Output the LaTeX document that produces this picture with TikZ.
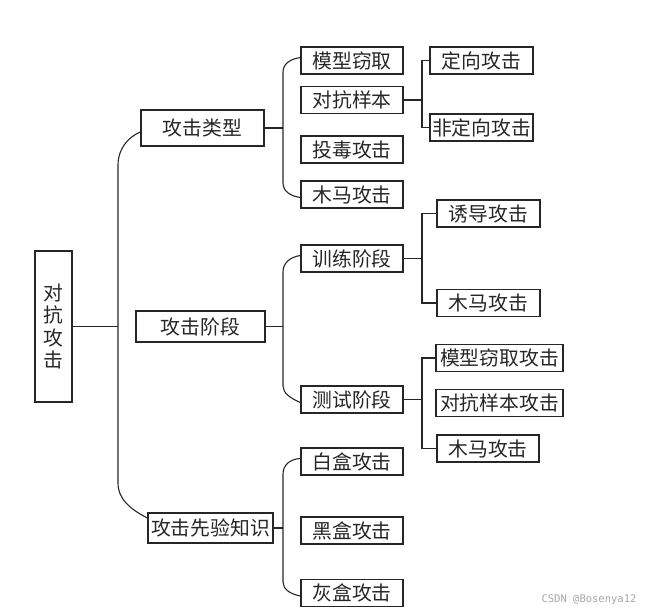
\documentclass[tikz,border=0pt]{standalone}
\usepackage{fontspec}
\newfontfamily\cjk{Noto Sans CJK SC}
\newfontfamily\wm{DejaVu Sans Mono}
\begin{document}
\begin{tikzpicture}[x=1pt,y=-1pt,
  box/.style={draw=black!85,line width=1.3pt,rectangle,inner sep=0pt,
    font=\cjk\fontsize{19.8}{22}\selectfont,text=black!85,minimum height=27pt},
  lv2/.style={box,minimum width=102pt},
  lv3/.style={box,minimum width=103pt},
  lv3w/.style={box,minimum width=127pt},
  conn/.style={draw=black!85,line width=1.1pt}]
\useasboundingbox (0,0) rectangle (653,614);
% root
\node[box,minimum width=37pt,minimum height=151pt,align=center,
  font=\cjk\fontsize{19.8}{22.5}\selectfont] (root) at (53.5,326.5) {对\\抗\\攻\\击};
% level 1
\node[box,minimum width=123pt,minimum height=36pt] (lx) at (202.5,128) {攻击类型};
\node[box,minimum width=129pt,minimum height=31pt] (ls) at (200.5,326.5) {攻击阶段};
\node[box,minimum width=125pt,minimum height=30pt] (lp) at (210.5,528) {攻击先验知识};
% level 2
\node[lv2] (x1) at (352,60.5) {模型窃取};
\node[lv2] (x2) at (352,100) {对抗样本};
\node[lv2] (x3) at (352,149.5) {投毒攻击};
\node[lv2] (x4) at (352,194.5) {木马攻击};
\node[lv2] (s1) at (352,258.5) {训练阶段};
\node[lv2] (s2) at (352,399.5) {测试阶段};
\node[lv2] (p1) at (352,461.5) {白盒攻击};
\node[lv2] (p2) at (352,530.5) {黑盒攻击};
\node[lv2] (p3) at (352,593) {灰盒攻击};
% level 3
\node[lv3] (d1) at (481.5,60.5) {定向攻击};
\node[lv3] (d2) at (481.5,127.5) {非定向攻击};
\node[lv3] (t1) at (488.5,213.5) {诱导攻击};
\node[lv3] (t2) at (488.5,303) {木马攻击};
\node[lv3w] (e1) at (499.5,358) {模型窃取攻击};
\node[lv3w] (e2) at (499.5,403) {对抗样本攻击};
\node[lv2] (e3) at (488,448.5) {木马攻击};
% watermark
\node[font=\wm\fontsize{10.5}{12}\selectfont,text=black!35,inner sep=0pt] (wmk) at (589,600) {CSDN @Bosenya12};
% trunk
\coordinate (tt) at (118,165);
\coordinate (tb) at (118,483);
\draw[conn] (root.east) -- (root.east -| tt);
\draw[conn] ([yshift=-4pt]lx.west) .. controls (128,137) and (118,149) .. (tt)
  -- (tb) .. controls (118,500) and (132,510) .. ([yshift=10pt]lp.west);
% level 1 -> level 2
\coordinate (ax) at (283,72);
\coordinate (bx) at (283,183);
\draw[conn] (lx.east) -- (lx.east -| ax);
\draw[conn] ([yshift=3pt]x1.west) .. controls (290,59) and (283,64) .. (ax)
  -- (bx) .. controls (283,191) and (290,196) .. ([yshift=-3pt]x4.west);
\coordinate (as) at (283,272);
\coordinate (bs) at (283,386);
\draw[conn] (ls.east) -- (ls.east -| as);
\draw[conn] ([yshift=3pt]s1.west) .. controls (290,257) and (283,263) .. (as)
  -- (bs) .. controls (283,393) and (290,398) .. ([yshift=-3pt]s2.west);
\coordinate (ap) at (283,474);
\coordinate (bp) at (283,582);
\draw[conn] (lp.east) -- (lp.east -| ap);
\draw[conn] ([yshift=3pt]p1.west) .. controls (290,459) and (283,465) .. (ap)
  -- (bp) .. controls (283,589) and (290,594) .. ([yshift=-3pt]p3.west);
% level 2 -> level 3
\coordinate (jx) at (422,100);
\draw[conn] (x2.east) -- (x2.east -| jx);
\draw[conn] (d1.west) -| (jx) |- (d2.west);
\coordinate (js) at (422,258.5);
\draw[conn] (s1.east) -- (s1.east -| js);
\draw[conn] (t1.west) -| (js) |- (t2.west);
\coordinate (je) at (422,399.5);
\draw[conn] (s2.east) -- (s2.east -| je);
\draw[conn] (e1.west) -| (je) |- (e3.west);
\end{tikzpicture}
\end{document}
